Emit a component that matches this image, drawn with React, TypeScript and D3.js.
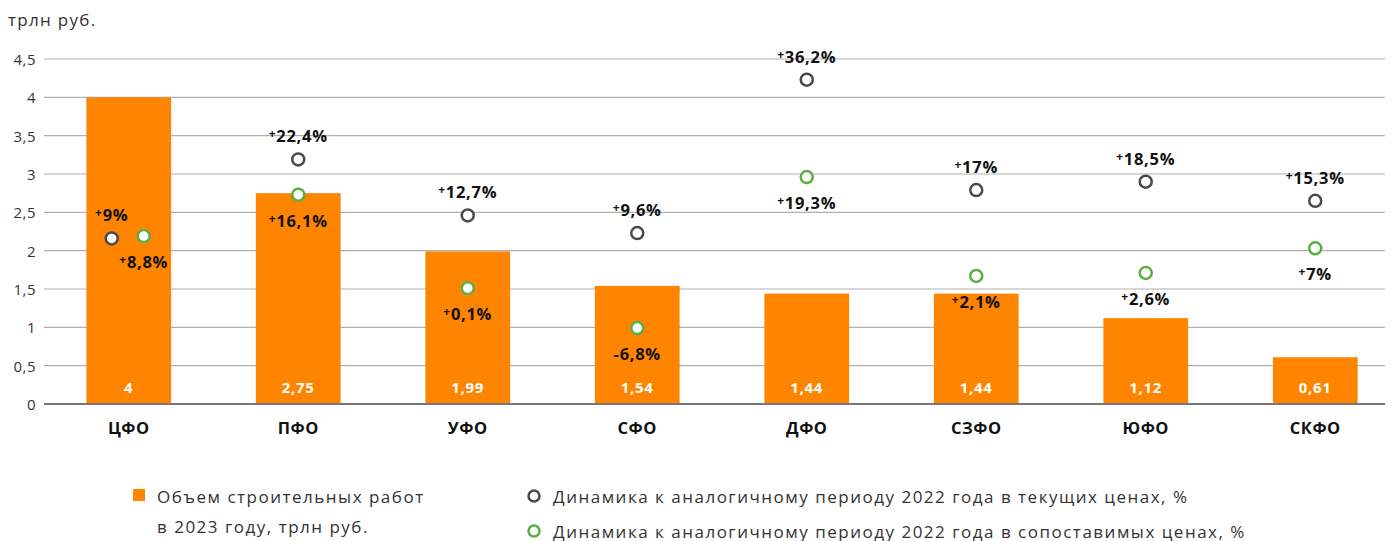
import React from 'react'
import * as d3 from 'd3'

const categories = ['ЦФО', 'ПФО', 'УФО', 'СФО', 'ДФО', 'СЗФО', 'ЮФО', 'СКФО']
const volume = [4, 2.75, 1.99, 1.54, 1.44, 1.44, 1.12, 0.61]
const volumeLabels = ['4', '2,75', '1,99', '1,54', '1,44', '1,44', '1,12', '0,61']
// point positions on the value axis (as drawn)
const currentPos = [2.16, 3.19, 2.46, 2.23, 4.23, 2.79, 2.9, 2.65]
const comparablePos = [2.19, 2.73, 1.51, 0.99, 2.96, 1.67, 1.71, 2.03]
const currentLabels = ['+9%', '+22,4%', '+12,7%', '+9,6%', '+36,2%', '+17%', '+18,5%', '+15,3%']
const comparableLabels = ['+8,8%', '+16,1%', '+0,1%', '-6,8%', '+19,3%', '+2,1%', '+2,6%', '+7%']
const ticks = [0, 0.5, 1, 1.5, 2, 2.5, 3, 3.5, 4, 4.5]
const tickLabels = ['0', '0,5', '1', '1,5', '2', '2,5', '3', '3,5', '4', '4,5']

const W = 1377
const H = 533
const FONT = '"Open Sans", "Noto Sans", sans-serif'
const ORANGE = '#ff8400'
const GRAY = '#4a4a4a'
const GREEN = '#5aae46'

function Label({ x, y, text }: { x: number; y: number; text: string }) {
  const sign = text[0]
  const rest = text.slice(1)
  const plus = sign === '+'
  return (
    <text x={x} y={y} textAnchor="middle" dominantBaseline="central"
      fontFamily={FONT} fontWeight={700} fontSize={16.5} fill="#111" letterSpacing={0.7}>
      <tspan fontSize={plus ? 12 : 16.5} dy={plus ? -2 : 0}>{sign}</tspan>
      <tspan dy={plus ? 2 : 0}>{rest}</tspan>
    </text>
  )
}

export default function App() {
  const x = d3.scaleBand().domain(categories).range([36, 1392]).padding(0)
  const y = d3.scaleLinear().domain([0, 4.5]).range([396, 51])
  const bw = x.bandwidth() * 0.5
  const legendText = { fontFamily: FONT, fontSize: 17, fill: '#333', letterSpacing: 1.5 }

  return (
    <svg width={W} height={H} style={{ display: 'block' }}>
      <text x={0} y={11} dominantBaseline="central" fontFamily={FONT} fontSize={17} fill="#333" letterSpacing={1.3}>трлн руб.</text>

      {ticks.map((t, i) => (
        <g key={t}>
          <line x1={36} x2={W} y1={y(t)} y2={y(t)} stroke={t === 0 ? '#777' : '#b0b0b0'} strokeWidth={t === 0 ? 2 : 1.2} />
          <text x={28} y={y(t)} textAnchor="end" dominantBaseline="central" fontFamily={FONT} fontSize={15} fill="#333" letterSpacing={0.5}>{tickLabels[i]}</text>
        </g>
      ))}

      {categories.map((c, i) => {
        const cx = (x(c) || 0) + x.bandwidth() / 2
        return (
          <g key={c}>
            <rect x={cx - bw / 2} y={y(volume[i])} width={bw} height={y(0) - y(volume[i]) - 1} fill={ORANGE} />
            <text x={cx} y={379} textAnchor="middle" dominantBaseline="central" fontFamily={FONT} fontWeight={700} fontSize={15} fill="#fff" letterSpacing={0.7}>{volumeLabels[i]}</text>
            <text x={cx} y={419} textAnchor="middle" dominantBaseline="central" fontFamily={FONT} fontWeight={700} fontSize={16.5} fill="#111" letterSpacing={0.5}>{c}</text>
          </g>
        )
      })}

      {categories.map((c, i) => {
        const cx = (x(c) || 0) + x.bandwidth() / 2
        const gx = i === 0 ? cx - 17 : cx
        const px = i === 0 ? cx + 15 : cx
        return (
          <g key={'p' + c}>
            <circle cx={gx} cy={y(currentPos[i])} r={6} fill="#fff" stroke={GRAY} strokeWidth={2.5} />
            <circle cx={px} cy={y(comparablePos[i])} r={6} fill="#fff" stroke={GREEN} strokeWidth={2.5} />
            <Label x={gx} y={y(currentPos[i]) - 24} text={currentLabels[i]} />
            <Label x={px} y={y(comparablePos[i]) + 25} text={comparableLabels[i]} />
          </g>
        )
      })}

      <rect x={125} y={481} width={12} height={12} fill={ORANGE} />
      <text x={149} y={488} dominantBaseline="central" {...legendText}>Объем строительных работ</text>
      <text x={149} y={518} dominantBaseline="central" {...legendText}>в 2023 году, трлн руб.</text>
      <circle cx={526} cy={488} r={5.5} fill="#fff" stroke={GRAY} strokeWidth={2.5} />
      <text x={545} y={488} dominantBaseline="central" {...legendText}>Динамика к аналогичному периоду 2022 года в текущих ценах, %</text>
      <circle cx={526} cy={523} r={5.5} fill="#fff" stroke={GREEN} strokeWidth={2.5} />
      <text x={545} y={523} dominantBaseline="central" {...legendText}>Динамика к аналогичному периоду 2022 года в сопоставимых ценах, %</text>
    </svg>
  )
}
